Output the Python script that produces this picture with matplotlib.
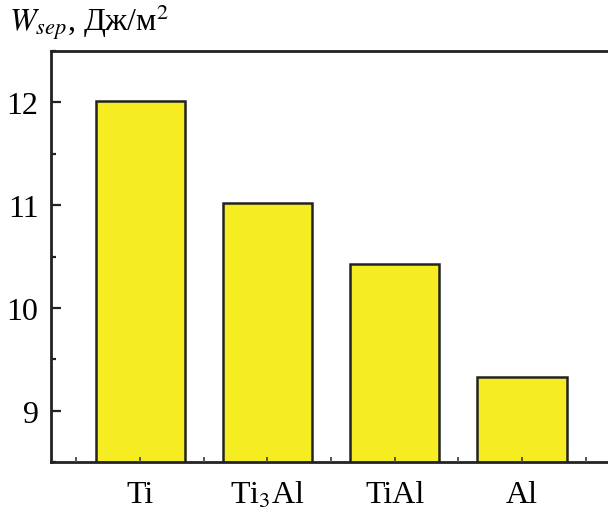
import matplotlib
matplotlib.use("Agg")
import matplotlib.pyplot as plt
from matplotlib.ticker import MultipleLocator

plt.rcParams['font.family'] = ['Liberation Serif', 'DejaVu Serif']
plt.rcParams['mathtext.fontset'] = 'stix'

categories = ["Ti", "Ti$_3$Al", "TiAl", "Al"]
values = [12.01, 11.02, 10.43, 9.33]

fig = plt.figure(figsize=(6.08, 5.10), dpi=100)
ax = fig.add_axes([51/608, 1 - 463/510, 1 - 51/608, (463 - 52)/510])

x = list(range(len(categories)))
ax.bar(x, values, width=0.70, color='#F5EC22', edgecolor='#222222', linewidth=1.8, zorder=2)
ax.set_axisbelow(False)

ax.set_ylim(8.5, 12.5)
ax.set_xlim(-0.70, 3.676)

ax.set_xticks(x)
ax.set_xticklabels(categories, fontsize=23)
ax.xaxis.set_minor_locator(MultipleLocator(0.5))
ax.set_yticks([9, 10, 11, 12])
ax.set_yticklabels(["9", "10", "11", "12"], fontsize=23)
ax.yaxis.set_minor_locator(MultipleLocator(0.5))

ax.tick_params(axis='y', which='major', direction='in', length=7, width=1.6, color='#222222', pad=9)
ax.tick_params(axis='y', which='minor', direction='in', length=3.5, width=1.6, color='#222222')
ax.tick_params(axis='x', which='both', direction='in', length=3.5, width=1.4, color='#555555', pad=13)

for s in ['left', 'top', 'bottom']:
    ax.spines[s].set_linewidth(2)
    ax.spines[s].set_color('#222222')
ax.spines['right'].set_visible(False)

fig.text(9/608, 1 - 22/510, r"$W_{sep}$, Дж/м$^2$", fontsize=23, ha='left', va='center')

fig.savefig("out.png", dpi=100)
